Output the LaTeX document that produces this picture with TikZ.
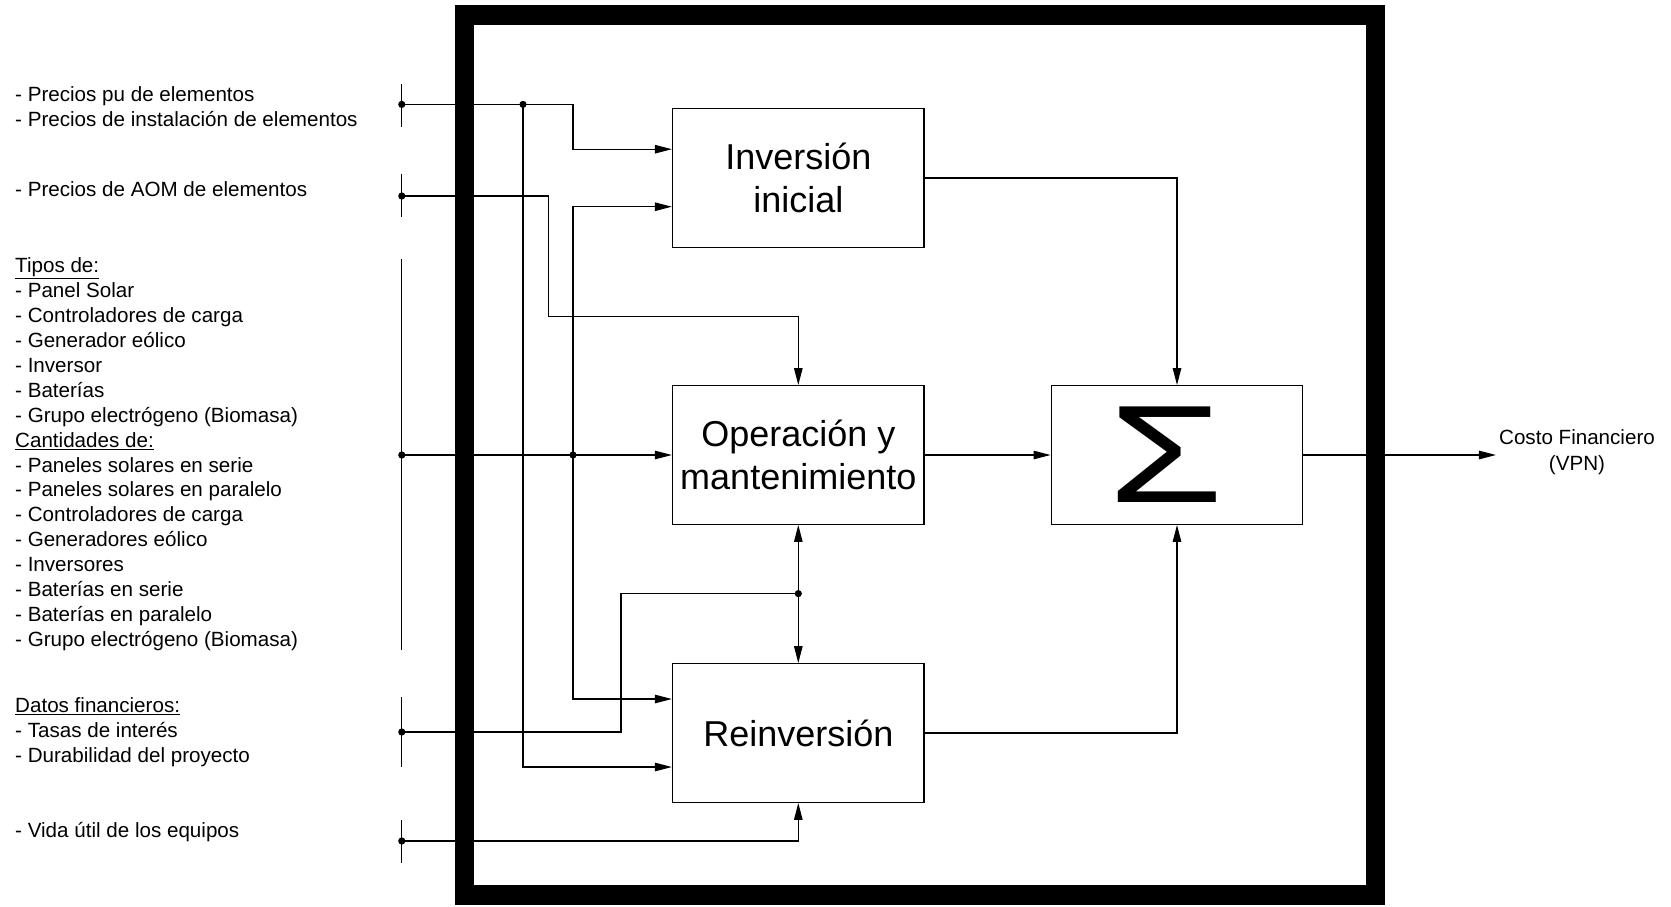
\documentclass[tikz,border=0pt]{standalone}
\usepackage{fontspec}
\setmainfont{Liberation Sans}
\usetikzlibrary{arrows.meta}
\tikzset{
  lt/.style={anchor=base west, inner sep=0pt, font=\fontsize{20.6}{24.9}\selectfont},
  blk/.style={draw, line width=1.4pt, minimum width=251.5pt, minimum height=138.5pt, inner sep=0pt, align=center, font=\fontsize{36}{42.6}\selectfont},
  wire/.style={line width=1.2pt},
  arr/.style={wire, -{Triangle[length=17pt,width=8.5pt]}},
  bar/.style={line width=1.2pt},
  dotf/.style={fill=black}
}
\begin{document}
\begin{tikzpicture}[x=1pt,y=-1pt]
\useasboundingbox (0,0) rectangle (1671,906);
% frame
\draw[line width=19.5pt] (464.6,15) rectangle (1375.7,895);

% left texts
\node[lt] (l1) at (15,101.2) {- Precios pu de elementos};
\node[lt] (l2) at (15,126.8) {- Precios de instalación de elementos};
\node[lt] (l3) at (15,196) {- Precios de AOM de elementos};
\node[lt] (l4) at (15,272.8) {\underline{Tipos de:}};
\node[lt] (l5) at (15,297.7) {- Panel Solar};
\node[lt] (l6) at (15,322.6) {- Controladores de carga};
\node[lt] (l7) at (15,347.5) {- Generador eólico};
\node[lt] (l8) at (15,372.4) {- Inversor};
\node[lt] (l9) at (15,397.3) {- Baterías};
\node[lt] (l10) at (15,422.2) {- Grupo electrógeno (Biomasa)};
\node[lt] (l11) at (15,447.1) {\underline{Cantidades de:}};
\node[lt] (l12) at (15,472) {- Paneles solares en serie};
\node[lt] (l13) at (15,496.9) {- Paneles solares en paralelo};
\node[lt] (l14) at (15,521.8) {- Controladores de carga};
\node[lt] (l15) at (15,546.7) {- Generadores eólico};
\node[lt] (l16) at (15,571.6) {- Inversores};
\node[lt] (l17) at (15,596.5) {- Baterías en serie};
\node[lt] (l18) at (15,621.4) {- Baterías en paralelo};
\node[lt] (l19) at (15,646.3) {- Grupo electrógeno (Biomasa)};
\node[lt] (l20) at (15,712.9) {\underline{Datos financieros:}};
\node[lt] (l21) at (15,737.6) {- Tasas de interés};
\node[lt] (l22) at (15,762.3) {- Durabilidad del proyecto};
\node[lt] (l23) at (15,837.6) {- Vida útil de los equipos};

% bus bars
\draw[bar] (401.8,84) -- (401.8,127);
\draw[bar] (401.8,173.7) -- (401.8,217.4);
\draw[bar] (401.8,259) -- (401.8,650);
\draw[bar] (401.8,697) -- (401.8,767);
\draw[bar] (401.8,819.5) -- (401.8,863);

\coordinate (b1) at (401.8,104.4);
\coordinate (b2) at (401.8,196);
\coordinate (b3) at (401.8,455);
\coordinate (b4) at (401.8,732);
\coordinate (b5) at (401.8,841);

% blocks
\node[blk] (inv) at (798.3,178) {Inversión\\inicial};
\node[blk] (op) at (798.3,455) {Operación y\\mantenimiento};
\node[blk] (rein) at (798.3,733) {Reinversión};
\node[blk] (sum) at (1177,455) {\fontsize{139}{139}\selectfont\scalebox{1.34}[1]{Σ}\hspace{22pt}};
\node[inner sep=3pt, align=center, font=\fontsize{20.6}{25.6}\selectfont] (cost) at (1577,452) {Costo Financiero\\(VPN)};

% line 1
\coordinate (j1) at (523,104.4);
\coordinate (t1) at (573,149.2);
\coordinate (t1b) at (523,767);
\draw[arr] (b1) -| (t1) -- (t1 -| inv.west);
\draw[arr] (j1) -- (t1b) -- (t1b -| rein.west);

% line 2
\coordinate (t2) at (548.8,316.5);
\draw[arr] (b2) -| (t2) -| (op.north);

% line 3
\coordinate (j3) at (573,455);
\coordinate (t3a) at (573,206.7);
\coordinate (t3b) at (573,699);
\draw[arr] (b3) -- (op.west);
\draw[arr] (j3) -- (t3a) -- (t3a -| inv.west);
\draw[arr] (j3) -- (t3b) -- (t3b -| rein.west);

% line 4
\coordinate (t4) at (621,593.6);
\coordinate (j4) at (798.3,593.6);
\draw[wire] (b4) -| (t4) -- (j4);
\draw[arr] (j4) -- (op.south);
\draw[arr] (j4) -- (rein.north);

% line 5
\draw[arr] (b5) -| (rein.south);

% outputs
\draw[arr] (inv.east) -| (sum.north);
\draw[arr] (op.east) -- (sum.west);
\draw[arr] (rein.east) -| (sum.south);
\draw[arr] (sum.east) -- (cost.west |- sum.east);

% junction dots
\foreach \p in {b1,b2,b3,b4,b5,j1,j3,j4}
  \fill[dotf] (\p) circle (3.6pt);
\end{tikzpicture}
\end{document}
